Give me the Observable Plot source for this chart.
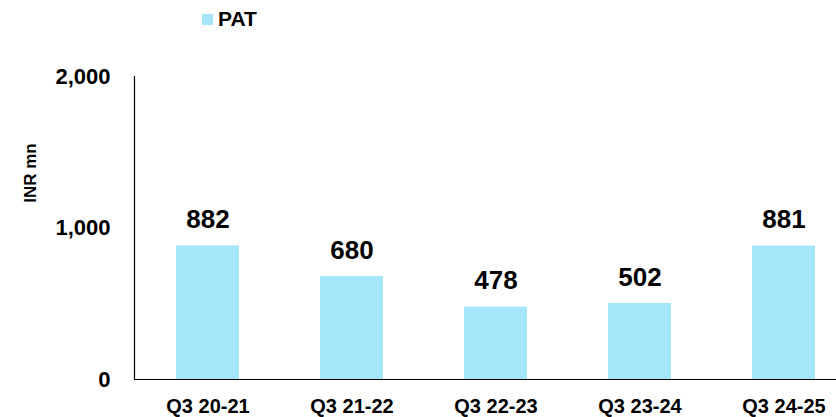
<!DOCTYPE html>
<html>
<head>
<meta charset="utf-8">
<script src="https://cdn.jsdelivr.net/npm/d3@7"></script>
<script src="https://cdn.jsdelivr.net/npm/@observablehq/plot@0.6"></script>
<style>
  html, body { margin: 0; padding: 0; background: #fff; }
  #wrap { position: relative; width: 836px; height: 417px; overflow: hidden; font-family: "Liberation Sans", Arial, sans-serif; }
  #legend { position: absolute; left: 202px; top: 8px; height: 22px; display: flex; align-items: center; font-weight: bold; font-size: 21px; color: #000; }
  #legend .sw { width: 11px; height: 11px; background: #a6e6fa; margin-right: 5px; }
  #ylabel { position: absolute; left: 31px; top: 173px; transform: translate(-50%, -50%) rotate(-90deg); font-weight: bold; font-size: 17px; white-space: nowrap; }
  #chart { position: absolute; left: 0; top: 0; }
</style>
</head>
<body>
<div id="wrap">
  <div id="chart"></div>
  <div id="legend"><div class="sw"></div><span>PAT</span></div>
  <div id="ylabel">INR mn</div>
</div>
<script>
const categories = ["Q3 20-21", "Q3 21-22", "Q3 22-23", "Q3 23-24", "Q3 24-25"];
const patValues = [882, 680, 478, 502, 881];
const yTicks = [0, 1000, 2000];

const data = categories.map((c, i) => ({ quarter: c, value: patValues[i] }));

const chart = Plot.plot({
  width: 836,
  height: 417,
  marginTop: 76,
  marginBottom: 38,
  marginLeft: 134,
  marginRight: 0,
  style: { fontFamily: "Liberation Sans, Arial, sans-serif", fontWeight: "bold", fontSize: "20px", color: "#000", background: "transparent", overflow: "visible" },
  x: { domain: categories, range: [134, 856], paddingInner: 0.564, paddingOuter: 0.28, label: null },
  y: { domain: [0, 2000], label: null },
  marks: [
    Plot.barY(data, { x: "quarter", y: "value", fill: "#a6e6fa" }),
    Plot.text(data, { x: "quarter", y: "value", text: d => d.value.toLocaleString("en-US"), dy: -26, fontSize: 26, fontWeight: "bold", fill: "#000" }),
    Plot.axisX({ tickSize: 0, tickPadding: 19, fontSize: 20, fontWeight: "bold", label: null }),
    Plot.axisY({ ticks: yTicks, tickSize: 0, tickPadding: 24, tickFormat: d3.format(","), fontSize: 22, fontWeight: "bold", label: null }),
    Plot.frame({ anchor: "left", stroke: "#000", strokeWidth: 1.2 }),
    Plot.ruleY([0], { stroke: "#000", strokeWidth: 1.2 })
  ]
});
document.getElementById("chart").appendChild(chart);
</script>
</body>
</html>
